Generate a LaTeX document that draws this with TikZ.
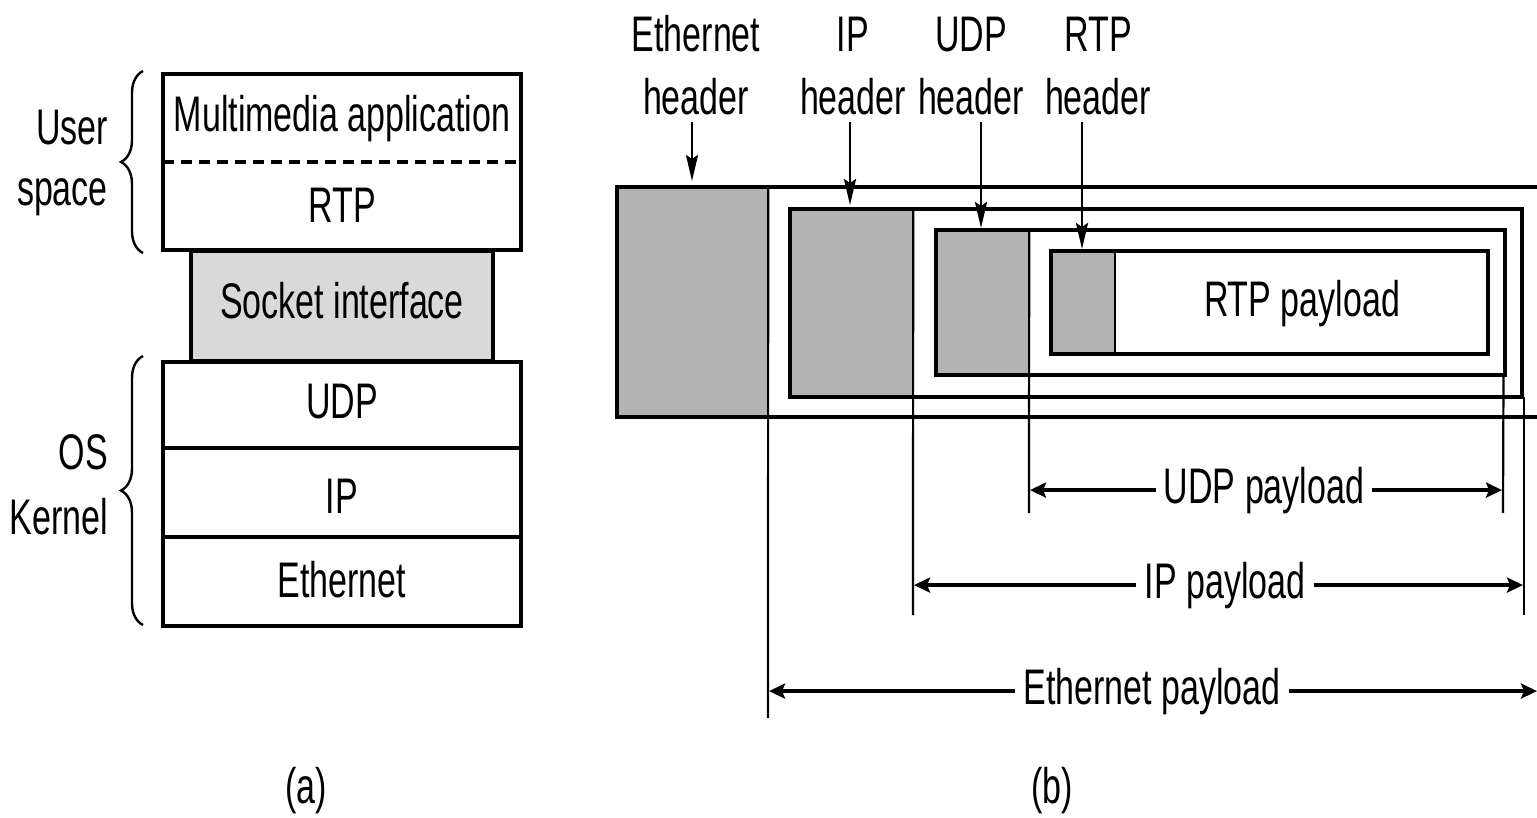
\documentclass[tikz,border=0pt]{standalone}
\usepackage{fontspec}
\setmainfont[FakeStretch=0.68]{Liberation Sans}
\usetikzlibrary{arrows.meta,decorations.pathreplacing}
\definecolor{hgray}{RGB}{179,179,179}
\definecolor{sgray}{RGB}{217,217,217}
\begin{document}
\begin{tikzpicture}[x=1pt,y=-1pt,
  lbl/.style={font=\fontsize{50}{63}\selectfont, inner sep=0pt, anchor=base},
  plbl/.style={font=\fontsize{50}{63}\selectfont, inner xsep=8pt, inner ysep=0pt, anchor=base},
  bx/.style={draw=black, line width=4pt, outer sep=0pt, inner sep=0pt},
  ibx/.style={draw=black, line width=3.6pt, outer sep=0pt, inner sep=0pt},
  thinln/.style={draw=black, line width=2.2pt},
  dashln/.style={draw=black, line width=3.2pt, dash pattern=on 11pt off 7pt},
  parr/.style={line width=3.5pt, -{Stealth[length=16pt,width=15pt,inset=3pt]}},
  harr/.style={line width=2.6pt, -{Stealth[length=26pt,width=12pt,inset=4pt]}},
  brc/.style={draw=black, decorate, decoration={brace, amplitude=22pt}, line width=2.4pt}]
\useasboundingbox (0,0) rectangle (1537,818);

% ---------------- (a) protocol stack ----------------
\node[bx, fill=sgray, minimum width=302pt, minimum height=110pt] (sock) at (342,306) {};
\node[bx, minimum width=358pt, minimum height=176pt] (top) at (342,162) {};
\draw[dashln] (top.west) -- (top.east);
\node[bx, minimum width=358pt, minimum height=86pt] (udp) at (342,405) {};
\node[bx, minimum width=358pt, minimum height=89pt] (ip) at (342,492.5) {};
\node[bx, minimum width=358pt, minimum height=89pt] (eth) at (342,581.5) {};

\node[lbl] (tmm) at (342,132) {Multimedia application};
\node[lbl] (trtp) at (342,223) {RTP};
\node[lbl] (tsock) at (342,319) {Socket interface};
\node[lbl] (tudp) at (342,418) {UDP};
\node[lbl] (tip) at (342,513) {IP};
\node[lbl] (teth) at (342,597) {Ethernet};

\coordinate (ub1) at (143,253);
\coordinate (ub2) at (143,71);
\coordinate (kb1) at (143,625);
\coordinate (kb2) at (143,356);
\draw[brc] (ub1) -- (ub2);
\draw[brc] (kb1) -- (kb2);
\node[lbl, anchor=base east] (tuser) at (108,145) {User};
\node[lbl, anchor=base east] (tspace) at (108,206) {space};
\node[lbl, anchor=base east] (tos) at (108,469) {OS};
\node[lbl, anchor=base east] (tkern) at (108,534) {Kernel};

\node[lbl] (ta) at (306,803) {(a)};

% ---------------- (b) encapsulation ----------------
\node[lbl] (h1a) at (696,52) {Ethernet};
\node[lbl] (h1b) at (696,115) {header};
\node[lbl] (h2a) at (853,52) {IP};
\node[lbl] (h2b) at (853,115) {header};
\node[lbl] (h3a) at (971,52) {UDP};
\node[lbl] (h3b) at (971,115) {header};
\node[lbl] (h4a) at (1098,52) {RTP};
\node[lbl] (h4b) at (1098,115) {header};

% header fills
\node[fill=hgray, draw=none, inner sep=0pt, minimum width=151pt, minimum height=230pt] (ethh) at (692.5,302) {};
\node[fill=hgray, draw=none, inner sep=0pt, minimum width=123pt, minimum height=188pt] (iph) at (851.5,303) {};
\node[fill=hgray, draw=none, inner sep=0pt, minimum width=93pt, minimum height=145pt] (udph) at (982.5,302.5) {};
\node[fill=hgray, draw=none, inner sep=0pt, minimum width=64pt, minimum height=103pt] (rtph) at (1083,302.5) {};

% ethernet frame (open on the right)
\coordinate (fTR) at (1537,187);
\coordinate (fTL) at (617,187);
\coordinate (fBL) at (617,417);
\coordinate (fBR) at (1537,417);
\draw[line width=4pt] (fTR) -- (fTL) -- (fBL) -- (fBR);

% nested boxes
\node[ibx, minimum width=732pt, minimum height=188pt] (ipbox) at (1156,303) {};
\node[ibx, minimum width=569pt, minimum height=145pt] (udpbox) at (1220.5,302.5) {};
\node[ibx, minimum width=437pt, minimum height=103pt] (rtpbox) at (1269.5,302.5) {};
\node[lbl] (trtpp) at (1302,317) {RTP payload};

% divider / extension lines
\coordinate (d1b) at (768,718);
\coordinate (d2b) at (913,615);
\coordinate (d3b) at (1029,513);
\coordinate (d5b) at (1503,513);
\coordinate (d6b) at (1524,615);
\draw[thinln] (ethh.north east) -- (d1b);
\draw[thinln] (iph.north east) -- (d2b);
\draw[thinln] (udph.north east) -- (d3b);
\draw[thinln] (rtph.north east) -- (rtph.south east);
\draw[thinln] (udpbox.south east) ++(-1.5,0) -- (d5b);
\draw[thinln] (ipbox.south east) ++(2,0) -- (d6b);

% header arrows
\coordinate (a1s) at (692,122); \coordinate (a1e) at (692,181);
\coordinate (a2s) at (850,122); \coordinate (a2e) at (850,205);
\coordinate (a3s) at (981,122); \coordinate (a3e) at (981,228);
\coordinate (a4s) at (1082,122); \coordinate (a4e) at (1082,249);
\draw[harr] (a1s) -- (a1e);
\draw[harr] (a2s) -- (a2e);
\draw[harr] (a3s) -- (a3e);
\draw[harr] (a4s) -- (a4e);

% payload dimension arrows
\node[plbl] (tudpp) at (1264,503) {UDP payload};
\node[plbl] (tipp) at (1225,598) {IP payload};
\node[plbl] (tethp) at (1152,704) {Ethernet payload};
\coordinate (uL) at (1030,490); \coordinate (uR) at (1502,490);
\coordinate (iL) at (914,587); \coordinate (iR) at (1523,587);
\coordinate (eL) at (769,690); \coordinate (eR) at (1537,690);
\draw[parr] (tudpp.west) -- (tudpp.west -| uL);
\draw[parr] (tudpp.east) -- (tudpp.east -| uR);
\draw[parr] (tipp.west) -- (tipp.west -| iL);
\draw[parr] (tipp.east) -- (tipp.east -| iR);
\draw[parr] (tethp.west) -- (tethp.west -| eL);
\draw[parr] (tethp.east) -- (tethp.east -| eR);

\node[lbl] (tb) at (1052,803) {(b)};
\end{tikzpicture}
\end{document}
